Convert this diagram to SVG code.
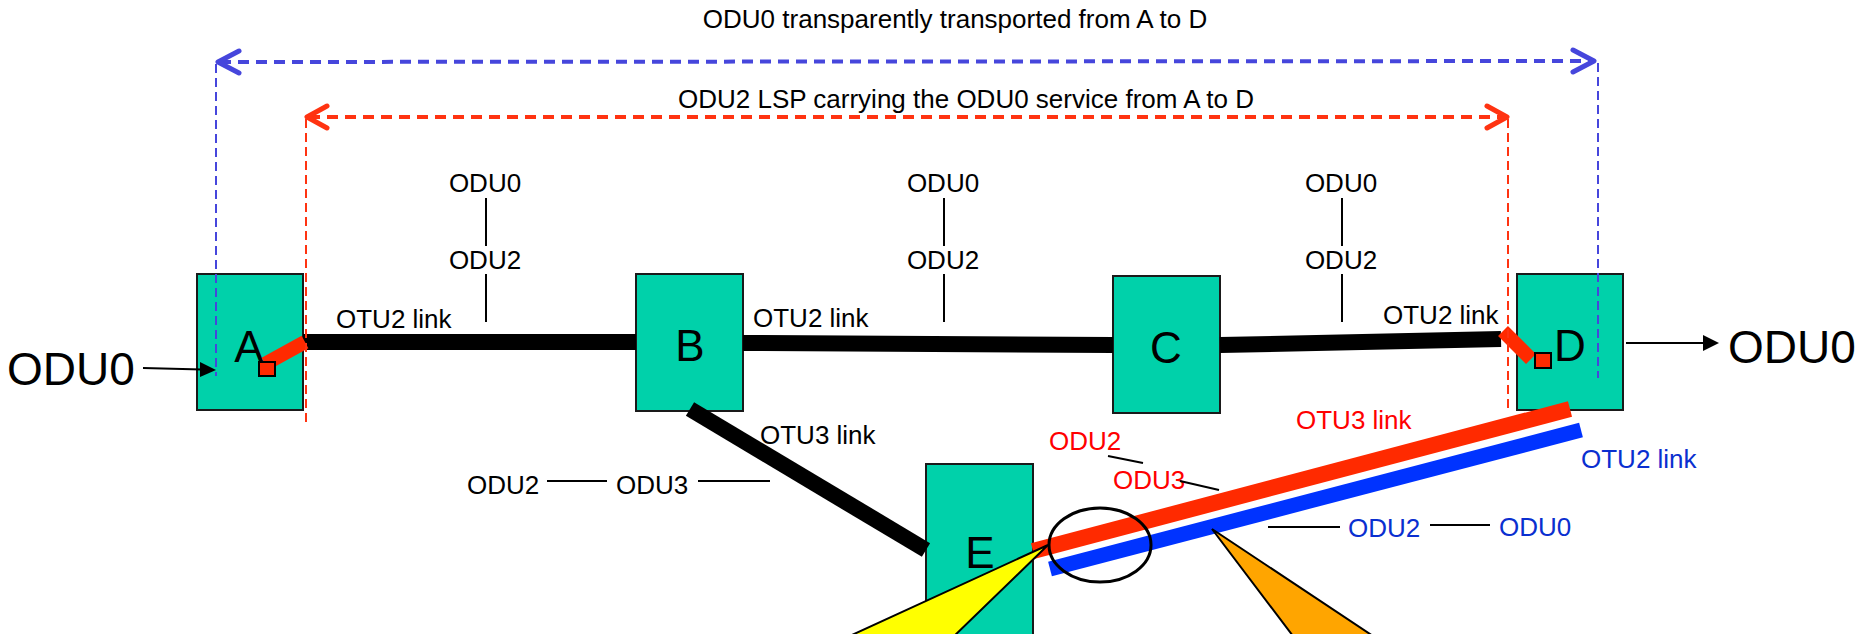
<svg xmlns="http://www.w3.org/2000/svg" width="1870" height="634" viewBox="0 0 1870 634">
  <style>
    text { font-family: "Liberation Sans", Arial, sans-serif; fill: #000; }
    .t26 { font-size: 26px; }
    .big { font-size: 46px; }
    .lbl { font-size: 44px; text-anchor: middle; }
    .mid { text-anchor: middle; }
    .red { fill: #ff0000; }
    .blue { fill: #0a2fd0; }
    .box { fill: #00d1aa; stroke: #1a1a1a; stroke-width: 2; }
    .thin { stroke: #000; stroke-width: 2; fill: none; }
    .link { stroke: #000; stroke-width: 16; fill: none; }
    .bh { stroke: #4646dc; stroke-width: 4; stroke-dasharray: 11 7; fill: none; }
    .bv { stroke: #4646dc; stroke-width: 2; stroke-dasharray: 9 5; fill: none; }
    .rh { stroke: #ff3311; stroke-width: 4; stroke-dasharray: 11 7; fill: none; }
    .rv { stroke: #ff3311; stroke-width: 2; stroke-dasharray: 9 5; fill: none; }
    .chev { fill: none; stroke-width: 5; stroke-linecap: round; stroke-linejoin: round; }
    .port { fill: #ff2a00; stroke: #000; stroke-width: 2; }
  </style>

  <!-- end-to-end span annotations -->
  <g id="spans">
    <text class="t26 mid" x="955" y="28">ODU0 transparently transported from A to D</text>
    <text class="t26 mid" x="966" y="108">ODU2 LSP carrying the ODU0 service from A to D</text>
    <line class="bh" x1="220" y1="62" x2="1592" y2="61"/>
    <polyline class="chev" stroke="#4646dc" points="239,51 218,62 239,73"/>
    <polyline class="chev" stroke="#4646dc" points="1573,50 1594,61 1573,72"/>
    <line class="rh" x1="309" y1="117" x2="1505" y2="117"/>
    <polyline class="chev" stroke="#ff3311" points="327,106 307,117 327,128"/>
    <polyline class="chev" stroke="#ff3311" points="1487,106 1507,117 1487,128"/>
  </g>

  <!-- network elements -->
  <g id="node-A">
    <rect class="box" x="197" y="274" width="106" height="136"/>
    <text class="lbl" x="249" y="362">A</text>
  </g>
  <g id="node-B">
    <rect class="box" x="636" y="274" width="107" height="137"/>
    <text class="lbl" x="690" y="361">B</text>
  </g>
  <g id="node-C">
    <rect class="box" x="1113" y="276" width="107" height="137"/>
    <text class="lbl" x="1166" y="363">C</text>
  </g>
  <g id="node-D">
    <rect class="box" x="1517" y="274" width="106" height="136"/>
    <text class="lbl" x="1570" y="361">D</text>
  </g>
  <g id="node-E">
    <rect class="box" x="926" y="464" width="107" height="180"/>
    <text class="lbl" x="980" y="568">E</text>
  </g>

  <!-- links -->
  <g id="connectors">
    <line class="link" x1="303" y1="342" x2="636" y2="342"/>
    <line class="link" x1="743" y1="343" x2="1113" y2="345"/>
    <line class="link" x1="1220" y1="345" x2="1501" y2="339"/>
    <line class="link" x1="690" y1="409" x2="926" y2="550"/>
    <line stroke="#ff2a00" stroke-width="16" x1="1033" y1="551" x2="1570" y2="409"/>
    <line stroke="#0033ff" stroke-width="15" x1="1050" y1="569" x2="1581" y2="430"/>

    <!-- client ODU0 in and out -->
    <line class="thin" x1="143" y1="368" x2="202" y2="369.5"/>
    <polygon points="200,362 216,370 200,377" fill="#000"/>
    <line class="thin" x1="1626" y1="343" x2="1705" y2="343"/>
    <polygon points="1703,335 1719,343 1703,351" fill="#000"/>

    <!-- adaptation into the ODU2 at A and D -->
    <line stroke="#ff2a00" stroke-width="14" x1="265" y1="364" x2="305" y2="342"/>
    <rect class="port" x="259" y="362" width="16" height="14"/>
    <line stroke="#ff2a00" stroke-width="14" x1="1503" y1="331" x2="1531" y2="359"/>
    <rect class="port" x="1535" y="353" width="16" height="15"/>

    <!-- span boundaries -->
    <line class="bv" x1="216" y1="64" x2="216" y2="376"/>
    <line class="bv" x1="1598" y1="63" x2="1598" y2="378"/>
    <line class="rv" x1="306" y1="119" x2="306" y2="425"/>
    <line class="rv" x1="1508" y1="119" x2="1508" y2="412"/>
  </g>

  <!-- link labels and multiplexing stacks -->
  <g id="labels">
    <text class="t26" x="336" y="328">OTU2 link</text>
    <text class="t26" x="753" y="327">OTU2 link</text>
    <text class="t26" x="1383" y="324">OTU2 link</text>
    <text class="t26" x="760" y="444">OTU3 link</text>

    <text class="t26 mid" x="485" y="192">ODU0</text>
    <text class="t26 mid" x="485" y="269">ODU2</text>
    <line class="thin" x1="486" y1="198" x2="486" y2="246"/>
    <line class="thin" x1="486" y1="274" x2="486" y2="322"/>

    <text class="t26 mid" x="943" y="192">ODU0</text>
    <text class="t26 mid" x="943" y="269">ODU2</text>
    <line class="thin" x1="944" y1="198" x2="944" y2="246"/>
    <line class="thin" x1="944" y1="274" x2="944" y2="322"/>

    <text class="t26 mid" x="1341" y="192">ODU0</text>
    <text class="t26 mid" x="1341" y="269">ODU2</text>
    <line class="thin" x1="1342" y1="198" x2="1342" y2="246"/>
    <line class="thin" x1="1342" y1="274" x2="1342" y2="322"/>

    <text class="t26" x="467" y="494">ODU2</text>
    <line class="thin" x1="547" y1="481" x2="607" y2="481"/>
    <text class="t26" x="616" y="494">ODU3</text>
    <line class="thin" x1="698" y1="481" x2="770" y2="481"/>

    <text class="big" x="7" y="385">ODU0</text>
    <text class="big" x="1728" y="363">ODU0</text>

    <text class="t26 red" x="1049" y="450">ODU2</text>
    <line class="thin" x1="1108" y1="456" x2="1143" y2="463"/>
    <text class="t26 red" x="1113" y="489">ODU3</text>
    <line class="thin" x1="1180" y1="481" x2="1219" y2="490"/>
    <text class="t26 red" x="1296" y="429">OTU3 link</text>

    <text class="t26 blue" x="1581" y="468">OTU2 link</text>
    <line class="thin" x1="1268" y1="527" x2="1340" y2="527"/>
    <text class="t26 blue" x="1348" y="537">ODU2</text>
    <line class="thin" x1="1430" y1="525" x2="1490" y2="525"/>
    <text class="t26 blue" x="1499" y="536">ODU0</text>
  </g>

  <!-- callouts -->
  <g id="callouts">
    <polygon points="1048,545 841,640 950,640" fill="#ffff00" stroke="#000" stroke-width="2"/>
    <polygon points="1212,529 1296,640 1379,640" fill="#ffa500" stroke="#000" stroke-width="2"/>
    <ellipse cx="1100" cy="545" rx="51" ry="37" fill="none" stroke="#000" stroke-width="3"/>
  </g>
</svg>
